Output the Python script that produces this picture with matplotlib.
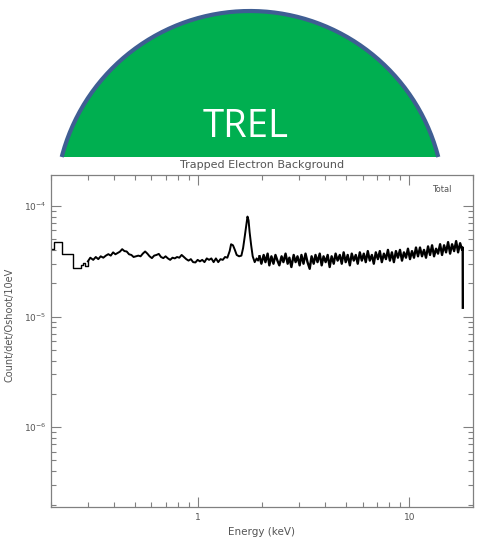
import numpy as np
import matplotlib
matplotlib.use('Agg')
from matplotlib import pyplot as plt
from matplotlib.ticker import FuncFormatter, NullFormatter, LogLocator

# spectrum: energies in keV, rate in units of 1e-5 count/det/Oshoot/10eV
# coarse bins at the low end (drawn as steps)
energy_step = [0.198, 0.208, 0.227, 0.256, 0.277, 0.285, 0.292, 0.300]
rate_step = [4.1, 4.76, 3.7, 2.77, 2.9, 3.05, 2.87, 3.15]

energy_low = [0.308, 0.318,
              0.327, 0.336, 0.345, 0.355, 0.365, 0.375, 0.385, 0.395, 0.405, 0.415,
              0.425, 0.436, 0.447, 0.458, 0.470, 0.482, 0.494, 0.507, 0.520, 0.533,
              0.546, 0.560, 0.574, 0.588, 0.603, 0.618, 0.634, 0.650, 0.666, 0.683,
              0.700, 0.718, 0.736, 0.755, 0.774, 0.793, 0.813, 0.834, 0.855, 0.877,
              0.899, 0.922, 0.945, 0.969, 0.993, 1.018, 1.044, 1.070, 1.097, 1.125,
              1.153, 1.182, 1.212, 1.243, 1.274, 1.306, 1.339, 1.373, 1.408]
rate_low = [3.4, 3.25,
            3.45, 3.3, 3.5, 3.4, 3.55, 3.66, 3.55, 3.8, 3.65, 3.75,
            3.85, 4.06, 3.9, 3.87, 3.65, 3.6, 3.45, 3.5, 3.55, 3.5,
            3.7, 3.87, 3.7, 3.5, 3.37, 3.55, 3.6, 3.68, 3.45, 3.37,
            3.5, 3.35, 3.25, 3.4, 3.35, 3.45, 3.4, 3.6, 3.45, 3.3,
            3.2, 3.3, 3.1, 3.08, 3.25, 3.15, 3.25, 3.1, 3.35, 3.25,
            3.35, 3.1, 3.35, 3.1, 3.3, 3.25, 3.45, 3.4, 3.9]

# Al K and Si K lines
energy_lines = [1.43, 1.46, 1.49, 1.52, 1.56, 1.60, 1.63, 1.66, 1.69, 1.71,
                1.73, 1.75, 1.78, 1.81, 1.85, 1.89, 1.92]
rate_lines = [4.5, 4.4, 4.0, 3.6, 3.5, 3.55, 4.15, 5.3, 6.8, 8.0,
              7.4, 5.8, 4.4, 3.5, 3.1, 3.35, 3.2]

energy_high = [1.95, 1.99, 2.04, 2.08, 2.13, 2.17, 2.22, 2.27, 2.32, 2.37,
               2.42, 2.48, 2.53, 2.59, 2.65, 2.70, 2.76, 2.83, 2.89, 2.95,
               3.02, 3.08, 3.15, 3.22, 3.29, 3.37, 3.44, 3.52, 3.59, 3.67,
               3.76, 3.84, 3.92, 4.01, 4.10, 4.19, 4.28, 4.38, 4.47, 4.57,
               4.68, 4.78, 4.88, 4.99, 5.10, 5.22, 5.33, 5.45, 5.57, 5.69,
               5.82, 5.95, 6.08, 6.21, 6.35, 6.49, 6.64, 6.78, 6.93, 7.09,
               7.24, 7.40, 7.57, 7.74, 7.91, 8.08, 8.26, 8.44, 8.63, 8.82,
               9.02, 9.22, 9.42, 9.63, 9.84, 10.06, 10.28, 10.51, 10.74, 10.98,
               11.22, 11.47, 11.72, 11.98, 12.25, 12.52, 12.80, 13.08, 13.37, 13.66,
               13.97, 14.27, 14.59, 14.91, 15.24, 15.58, 15.92, 16.28, 16.64, 17.00,
               17.38, 17.76, 17.88, 17.90]
rate_high = [3.5, 3.0, 3.6, 3.1, 3.7, 2.9, 3.5, 3.0, 3.6, 3.2,
             2.9, 3.5, 3.1, 3.7, 3.0, 3.4, 2.8, 3.6, 3.1, 3.5,
             2.9, 3.6, 3.0, 3.7, 3.1, 2.7, 3.5, 3.0, 3.6, 3.1,
             3.7, 2.9, 3.5, 3.1, 3.6, 2.8, 3.5, 3.0, 3.7, 3.2,
             3.6, 3.0, 3.8, 3.1, 3.6, 2.9, 3.7, 3.2, 3.6, 3.0,
             3.8, 3.2, 3.7, 3.1, 3.9, 3.2, 3.6, 3.0, 3.8, 3.3,
             3.9, 3.1, 3.7, 3.3, 4.0, 3.2, 3.8, 3.1, 3.9, 3.4,
             4.0, 3.2, 3.8, 3.4, 4.1, 3.3, 3.9, 3.4, 4.2, 3.5,
             4.2, 3.5, 4.0, 3.4, 4.3, 3.6, 4.4, 3.5, 4.1, 3.7,
             4.5, 3.6, 4.4, 3.8, 4.7, 3.7, 4.5, 3.9, 4.8, 3.8,
             4.6, 4.0, 4.2, 1.2]

e_line = np.array(energy_step[-1:] + energy_low + energy_lines + energy_high[:1])
r_line = np.array(rate_step[-1:] + rate_low + rate_lines + rate_high[:1]) * 1e-5

W, H = 479, 540
fig = plt.figure(figsize=(W / 100, H / 100), dpi=100)

# banner: green dome with blue rim
bg = fig.add_axes([0, 0, 1, 1])
bg.set_xlim(0, W)
bg.set_ylim(H, 0)
bg.axis('off')
cx, cy, r = 250, 205.4, 194.4
t0 = np.arcsin((cy - 157) / r)
t = np.linspace(t0, np.pi - t0, 200)
dome_x = cx + r * np.cos(t)
dome_y = cy - r * np.sin(t)
bg.fill(dome_x, dome_y, color='#00AF50', lw=0)
bg.plot(dome_x, dome_y, color='#3F5E93', lw=3, solid_capstyle='butt')
bg.text(246, 127, 'TREL', color='white', fontsize=27.5, family='Open Sans',
        ha='center', va='center')

ax = fig.add_axes([50.7 / W, 1 - 507 / H, (473 - 50.7) / W, (507 - 175) / H])
ax.plot(energy_step, np.array(rate_step) * 1e-5, drawstyle='steps-post',
        color='black', lw=1.0)
ax.plot(e_line, r_line, color='black', lw=1.4)
ax.plot(energy_high, np.array(rate_high) * 1e-5, color='black', lw=1.7)
ax.set_xscale('log')
ax.set_yscale('log')
ax.set_xlim(0.2, 20)
ax.set_ylim(1.9e-7, 1.9e-4)

gray = '#808080'
txt = '#555555'
for s in ax.spines.values():
    s.set_color(gray)
    s.set_linewidth(0.9)
ax.xaxis.set_major_formatter(FuncFormatter(lambda v, p: f'{v:g}'))
ax.xaxis.set_minor_formatter(NullFormatter())
ax.yaxis.set_minor_locator(LogLocator(base=10, subs=np.arange(2, 10)))
ax.yaxis.set_minor_formatter(NullFormatter())
ax.tick_params(which='both', direction='in', top=True, right=True,
               colors=gray, labelcolor=txt, labelsize=6.5, width=0.8)
ax.tick_params(which='major', length=7, pad=4)
ax.tick_params(which='minor', length=3.5)
ax.tick_params(axis='y', which='major', pad=3)

ax.set_title('Trapped Electron Background', fontsize=8, color=txt, pad=5)
ax.set_xlabel('Energy (keV)', fontsize=7.5, color=txt, labelpad=4)
ax.set_ylabel('Count/det/Oshoot/10eV', fontsize=7, color=txt)
ax.yaxis.set_label_coords(-0.085, 0.55)
ax.text(0.925, 0.955, 'Total', transform=ax.transAxes, fontsize=6,
        color=txt, ha='center', va='center')

fig.savefig('out.png', dpi=100)
